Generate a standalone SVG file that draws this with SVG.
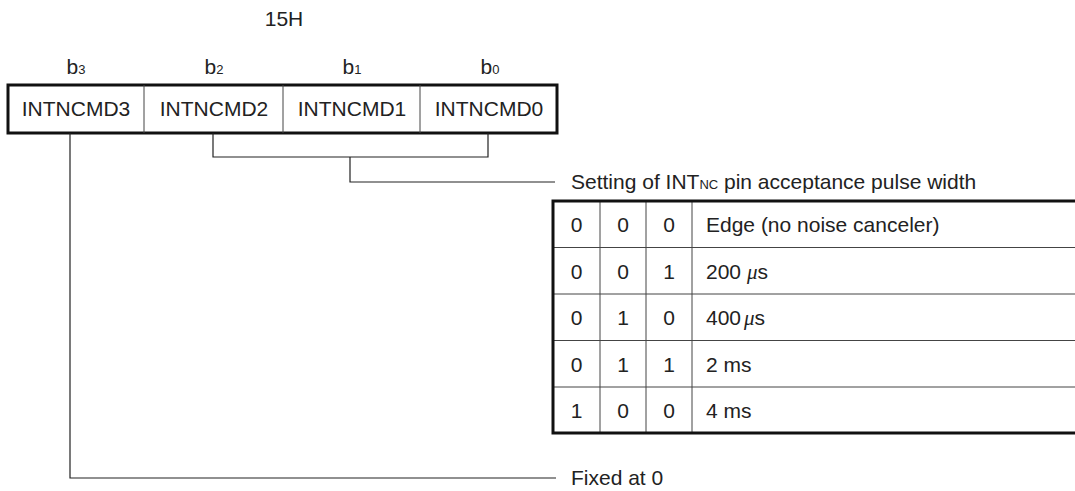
<svg xmlns="http://www.w3.org/2000/svg" width="1075" height="491" viewBox="0 0 1075 491">
<style>
text{font-family:"Liberation Sans",Arial,sans-serif;font-size:21px;fill:#222}
.c{text-anchor:middle}
.sub{font-size:13px}
.thick{fill:none;stroke:#111;stroke-width:3}
.thin{fill:none;stroke:#444;stroke-width:1}
.ln{fill:none;stroke:#222;stroke-width:1.2}
</style>
<rect width="1075" height="491" fill="#fff"/>
<text x="284" y="26" class="c" font-size="20">15H</text>
<g id="register">
<text x="76" y="74" class="c">b<tspan class="sub">3</tspan></text>
<text x="214" y="74" class="c">b<tspan class="sub">2</tspan></text>
<text x="352" y="74" class="c">b<tspan class="sub">1</tspan></text>
<text x="490" y="74" class="c">b<tspan class="sub">0</tspan></text>
<rect x="8" y="85" width="549" height="48" class="thick"/>
<line x1="144" y1="85" x2="144" y2="133" class="thin"/>
<line x1="283" y1="85" x2="283" y2="133" class="thin"/>
<line x1="420" y1="85" x2="420" y2="133" class="thin"/>
<text x="76" y="116" class="c">INTNCMD3</text>
<text x="214" y="116" class="c">INTNCMD2</text>
<text x="352" y="116" class="c">INTNCMD1</text>
<text x="489" y="116" class="c">INTNCMD0</text>
</g>
<g id="connectors">
<polyline points="213,133 213,157 488,157 488,133" class="ln"/>
<polyline points="350,157 350,182 555,182" class="ln"/>
<polyline points="70,133 70,478 556,478" class="ln"/>
</g>
<g id="label-setting">
<text x="571" y="189">Setting of INT<tspan class="sub">NC</tspan> pin acceptance pulse width</text>
</g>
<g id="table">
<line x1="600" y1="201" x2="600" y2="433" class="thin"/>
<line x1="646" y1="201" x2="646" y2="433" class="thin"/>
<line x1="692" y1="201" x2="692" y2="433" class="thin"/>
<line x1="553" y1="247.5" x2="1075" y2="247.5" class="thin"/>
<line x1="553" y1="294" x2="1075" y2="294" class="thin"/>
<line x1="553" y1="340.5" x2="1075" y2="340.5" class="thin"/>
<line x1="553" y1="387" x2="1075" y2="387" class="thin"/>
<polyline points="1075,201 553,201 553,433 1075,433" class="thick"/>
<g class="c">
<text x="576.5" y="232" class="c">0</text><text x="623" y="232" class="c">0</text><text x="669" y="232" class="c">0</text>
<text x="576.5" y="278.5" class="c">0</text><text x="623" y="278.5" class="c">0</text><text x="669" y="278.5" class="c">1</text>
<text x="576.5" y="325" class="c">0</text><text x="623" y="325" class="c">1</text><text x="669" y="325" class="c">0</text>
<text x="576.5" y="371.5" class="c">0</text><text x="623" y="371.5" class="c">1</text><text x="669" y="371.5" class="c">1</text>
<text x="576.5" y="418" class="c">1</text><text x="623" y="418" class="c">0</text><text x="669" y="418" class="c">0</text>
</g>
<text x="706" y="232">Edge (no noise canceler)</text>
<text x="706" y="278.5">200 <tspan font-family="'Liberation Serif',serif" font-style="italic">μ</tspan>s</text>
<text x="706" y="325">400<tspan dx="3" font-family="'Liberation Serif',serif" font-style="italic">μ</tspan>s</text>
<text x="706" y="371.5">2 ms</text>
<text x="706" y="418">4 ms</text>
</g>
<g id="label-fixed">
<text x="571" y="485">Fixed at 0</text>
</g>
</svg>
